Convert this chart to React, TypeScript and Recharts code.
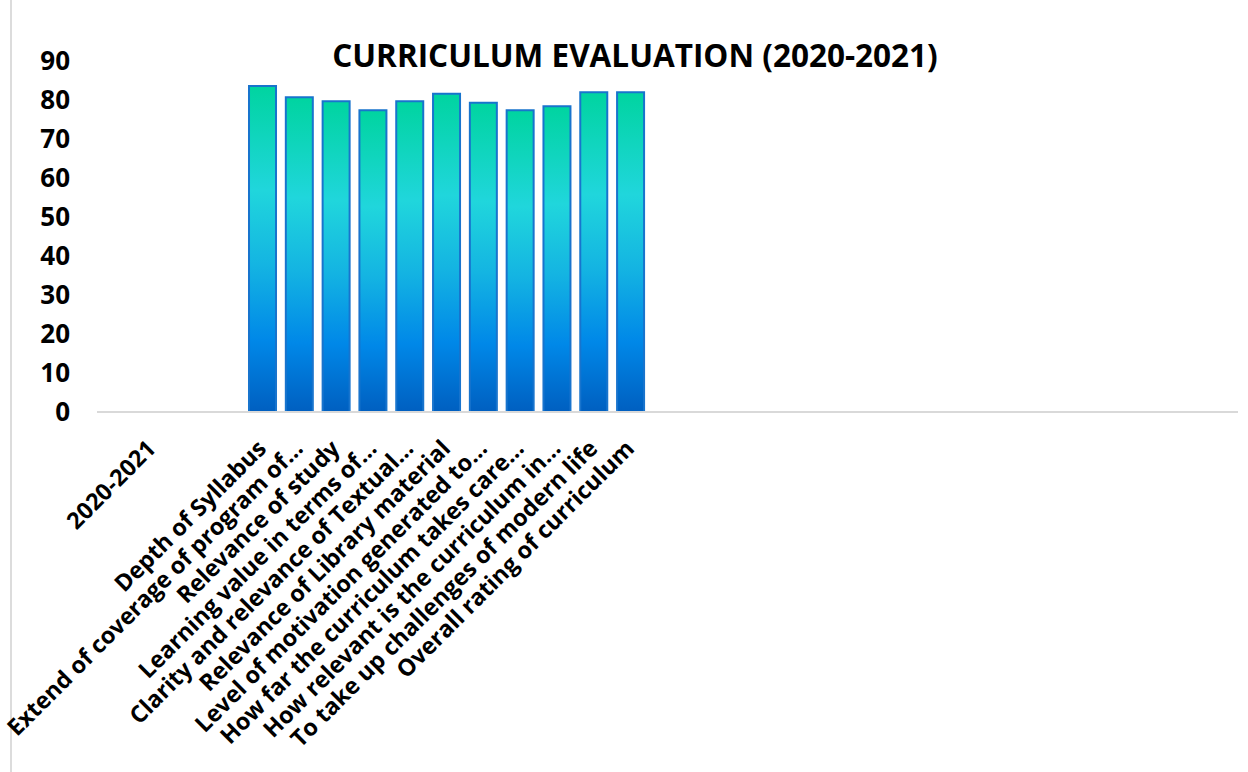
import React from "react"
import { Bar, BarChart, XAxis, YAxis } from "recharts"

// slots before the criteria (Excel left a year label and empty slots here)
const leadingLabels = ["", "2020-2021", "", ""]

const criteria = [
  "Depth of Syllabus",
  "Extend of coverage of program of…",
  "Relevance of study",
  "Learning value in terms of…",
  "Clarity and relevance of Textual…",
  "Relevance of Library material",
  "Level of motivation generated to…",
  "How far the curriculum takes care…",
  "How relevant is the curriculum in…",
  "To take up challenges of modern life",
  "Overall rating of curriculum",
]

const scores = [83.6, 80.7, 79.7, 77.4, 79.7, 81.6, 79.3, 77.4, 78.4, 82.0, 82.0]

// empty slots after the criteria
const trailingSlotCount = 16

const yTicks = [0, 10, 20, 30, 40, 50, 60, 70, 80, 90]

const rows = [
  ...leadingLabels.map((label) => ({ label, score: null as number | null })),
  ...criteria.map((label, i) => ({ label, score: scores[i] as number | null })),
  ...Array.from({ length: trailingSlotCount }, () => ({ label: "", score: null as number | null })),
].map((r, i) => ({ ...r, slot: i }))

const FONT = "'Open Sans', sans-serif"

function CategoryTick({ x, y, payload }: any) {
  const row = rows[payload.value]
  if (!row || !row.label) return null
  return (
    <text
      transform={`translate(${x + 5},${y + 38}) rotate(-45)`}
      textAnchor="end"
      fontFamily={FONT}
      fontWeight={700}
      fontSize={23.3}
      fill="#000"
    >
      {row.label}
    </text>
  )
}

export default function App() {
  return (
    <div style={{ position: "absolute", left: 0, top: 0, width: 1248, height: 772, background: "#fff" }}>
      <div style={{ position: "absolute", left: 10, top: 0, width: 2, height: 772, background: "#dcdcdc" }} />
      <div
        style={{
          position: "absolute",
          left: 0,
          width: 1270,
          top: 39,
          textAlign: "center",
          fontFamily: FONT,
          fontWeight: 700,
          fontSize: 31.5,
          lineHeight: "31.5px",
          color: "#000",
        }}
      >
        CURRICULUM EVALUATION (2020-2021)
      </div>
      <BarChart
        width={1248}
        height={772}
        data={rows}
        margin={{ top: 61, right: 10, bottom: 0, left: 0 }}
        barCategoryGap="13%"
      >
        <defs>
          <linearGradient id="barFill" x1="0" y1="0" x2="0" y2="1">
            <stop offset="0%" stopColor="#00d4a0" />
            <stop offset="32%" stopColor="#20d6dc" />
            <stop offset="55%" stopColor="#14b4e2" />
            <stop offset="78%" stopColor="#0088e8" />
            <stop offset="100%" stopColor="#005fc0" />
          </linearGradient>
        </defs>
        <XAxis
          dataKey="slot"
          type="category"
          interval={0}
          height={360}
          tickLine={false}
          tickSize={0}
          tickMargin={0}
          axisLine={{ stroke: "#d9d9d9", strokeWidth: 2 }}
          tick={<CategoryTick />}
        />
        <YAxis
          width={97}
          domain={[0, 90]}
          ticks={yTicks}
          axisLine={false}
          tickLine={false}
          tickSize={0}
          tickMargin={27}
          tick={{ fontFamily: FONT, fontWeight: 700, fontSize: 26, fill: "#000" }}
        />
        <Bar
          dataKey="score"
          fill="url(#barFill)"
          stroke="#1874cd"
          strokeWidth={2}
          isAnimationActive={false}
        />
      </BarChart>
    </div>
  )
}
